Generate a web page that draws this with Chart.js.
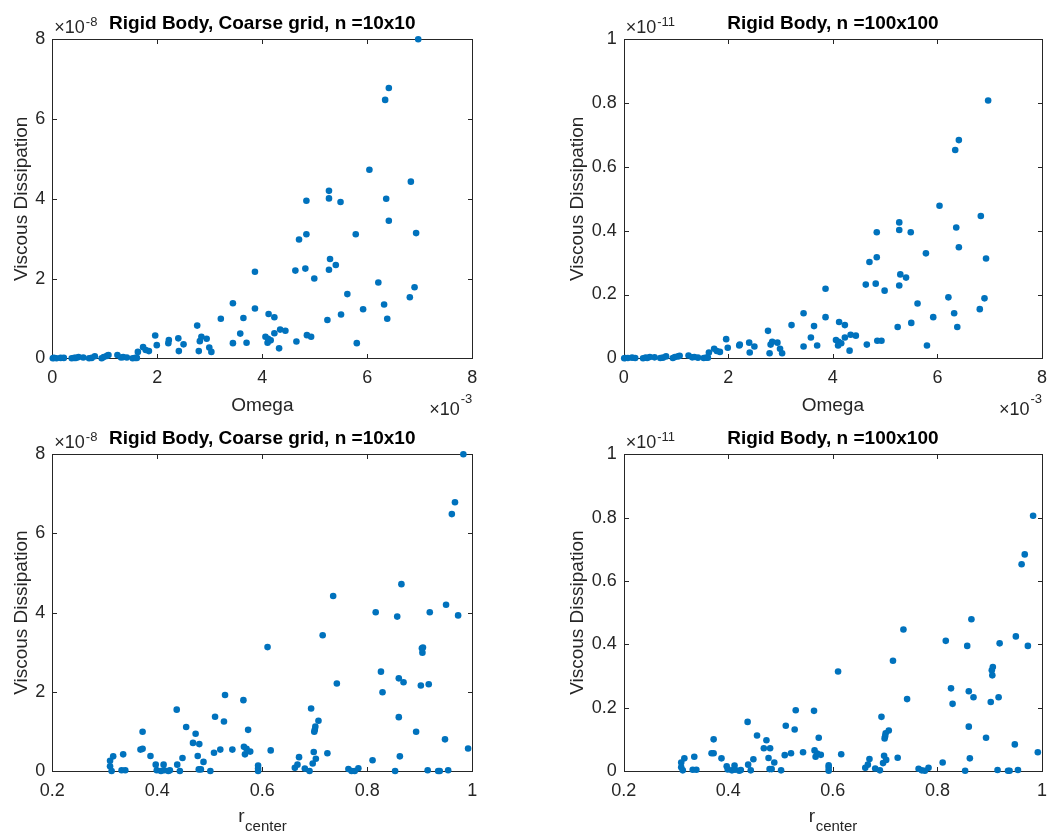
<!DOCTYPE html>
<html><head><meta charset="utf-8">
<script src="https://cdn.jsdelivr.net/npm/chart.js@4.4.1/dist/chart.umd.min.js"></script>
<style>
html,body{margin:0;padding:0;background:#fff;width:1056px;height:835px;overflow:hidden}
canvas{position:absolute;display:block}
</style></head><body>
<canvas id="c0" width="528" height="417" style="left:0;top:0"></canvas>
<canvas id="c1" width="528" height="417" style="left:528px;top:0"></canvas>
<canvas id="c2" width="528" height="418" style="left:0;top:417px"></canvas>
<canvas id="c3" width="528" height="418" style="left:528px;top:417px"></canvas>
<script>
// ---- data (Omega in units of 1e-3, coarse dissipation in 1e-8, fine dissipation in 1e-11)
const omegaE3 = [6.97,6.41,6.34,6.04,6.83,5.27,5.27,4.84,5.49,6.36,
6.41,5.78,6.93,4.84,4.70,5.29,5.40,4.82,5.27,4.63,
3.86,4.99,6.21,6.90,5.62,6.81,6.32,3.44,3.86,5.92,
4.12,5.50,4.23,3.64,3.21,5.24,6.38,2.76,4.34,4.44,
3.58,4.23,4.85,4.93,1.96,2.84,2.94,2.40,2.22,2.21,
4.06,4.11,4.16,4.10,2.81,2.50,1.99,3.44,3.70,4.65,
5.80,2.99,3.03,4.32,2.41,2.79,1.73,1.78,1.84,1.63,
0.01,0.03,0.08,0.16,0.22,0.37,0.42,0.45,0.50,0.59,
0.70,0.75,0.81,0.94,0.98,1.04,1.07,1.24,1.31,1.35,
1.42,1.53,1.58,1.61];
const dissCoarseOmega = [8.00,6.78,6.48,4.73,4.43,4.20,4.01,3.95,3.92,4.00,
3.45,3.11,3.14,3.11,2.98,2.49,2.34,2.25,2.22,2.20,
2.17,2.00,1.90,1.78,1.61,1.53,1.35,1.38,1.25,1.23,
1.11,1.10,1.03,1.01,0.99,0.96,0.99,0.82,0.72,0.69,
0.62,0.63,0.58,0.54,0.57,0.54,0.49,0.50,0.46,0.38,
0.54,0.49,0.45,0.39,0.43,0.35,0.33,0.38,0.39,0.42,
0.38,0.27,0.16,0.25,0.18,0.18,0.28,0.21,0.18,0.16,
0.00,0.01,0.00,0.01,0.01,0.00,0.01,0.01,0.03,0.02,
0.00,0.01,0.05,0.00,0.03,0.06,0.08,0.08,0.02,0.03,
0.02,0.00,0.01,0.01];
const dissFineOmega = [0.808,0.684,0.653,0.478,0.446,0.426,0.402,0.395,0.395,0.410,
0.348,0.329,0.313,0.317,0.302,0.263,0.253,0.234,0.228,0.231,
0.218,0.212,0.191,0.188,0.172,0.154,0.141,0.141,0.129,0.129,
0.114,0.111,0.104,0.101,0.104,0.098,0.098,0.086,0.074,0.071,
0.065,0.065,0.055,0.055,0.060,0.052,0.049,0.049,0.043,0.040,
0.057,0.052,0.047,0.040,0.043,0.037,0.033,0.037,0.040,0.043,
0.040,0.030,0.016,0.024,0.018,0.016,0.030,0.023,0.020,0.018,
0.000,0.001,0.001,0.002,0.001,0.000,0.002,0.001,0.004,0.003,
0.001,0.002,0.006,0.001,0.004,0.006,0.008,0.009,0.003,0.004,
0.002,0.001,0.002,0.002];

const rCenter = [0.310,0.310,0.313,0.316,0.335,0.332,0.339,0.368,0.372,0.372,
0.387,0.397,0.412,0.399,0.407,0.413,0.421,0.424,0.437,0.438,
0.443,0.448,0.455,0.468,0.473,0.477,0.480,0.479,0.483,0.488,
0.501,0.508,0.510,0.520,0.527,0.529,0.543,0.564,0.565,0.567,
0.570,0.573,0.577,0.592,0.592,0.592,0.610,0.616,0.662,0.667,
0.670,0.681,0.690,0.693,0.696,0.698,0.702,0.699,0.700,0.701,
0.707,0.715,0.724,0.735,0.742,0.764,0.770,0.776,0.783,0.810,
0.816,0.826,0.829,0.853,0.857,0.860,0.860,0.862,0.865,0.869,
0.893,0.902,0.906,0.904,0.905,0.915,0.917,0.919,0.935,0.938,
0.948,0.950,0.954,0.961,0.967,0.973,0.983,0.992];
const dissCoarseR = [0.26,0.12,0.00,0.37,0.42,0.02,0.02,0.54,0.56,0.99,
0.38,0.16,0.16,0.02,0.00,0.02,0.00,0.02,1.55,0.16,
0.00,0.33,1.11,0.71,0.94,0.38,0.68,0.04,0.04,0.23,
0.00,0.46,1.37,0.54,1.25,1.92,0.54,1.79,0.61,0.42,
0.56,1.04,0.49,0.14,0.06,0.00,3.13,0.52,0.08,0.16,
0.35,0.06,0.00,1.58,0.19,0.48,0.31,0.99,1.04,1.12,
1.27,3.43,0.45,4.42,2.21,0.05,0.00,0.00,0.07,0.27,
4.01,2.51,1.99,0.00,3.90,2.34,1.36,0.37,4.72,2.24,
0.99,2.16,3.12,3.10,2.99,0.02,2.19,4.01,0.00,0.00,
0.80,4.20,0.02,6.49,6.79,3.93,8.00,0.57];
const dissFineR = [0.027,0.012,0.002,0.040,0.045,0.004,0.004,0.056,0.056,0.100,
0.040,0.015,0.017,0.005,0.002,0.004,0.001,0.003,0.155,0.020,
0.002,0.037,0.112,0.072,0.097,0.041,0.072,0.006,0.006,0.027,
0.002,0.050,0.143,0.056,0.131,0.192,0.059,0.190,0.065,0.045,
0.055,0.105,0.051,0.018,0.010,0.001,0.314,0.053,0.010,0.020,
0.038,0.008,0.002,0.171,0.025,0.048,0.035,0.103,0.110,0.119,
0.128,0.348,0.042,0.447,0.227,0.007,0.002,0.001,0.010,0.027,
0.411,0.261,0.212,0.001,0.395,0.252,0.140,0.040,0.479,0.233,
0.105,0.218,0.328,0.318,0.302,0.003,0.233,0.403,0.001,0.001,
0.084,0.425,0.003,0.653,0.684,0.395,0.806,0.059];

// ---- tick labels and texts
const tickOmega = [0,2,4,6,8];
const tickCoarse = [0,2,4,6,8];
const tickFine = [0,0.2,0.4,0.6,0.8,1];
const tickR = [0.2,0.4,0.6,0.8,1];
const titles = ["Rigid Body, Coarse grid, n =10x10", "Rigid Body, n =100x100"];
const yExpCoarse = "-8", yExpFine = "-11", xExpOmega = "-3";
const yLabel = "Viscous Dissipation";
const xLabelOmega = "Omega";
const xLabelR = ["r", "center"];

const FONT = "'Liberation Sans', Arial, Helvetica, sans-serif";
const INK = "#262626";
const DOT = "#0072BD";

function fmt(v){ return String(+(+v).toFixed(4)); }

function makePanel(spec){
  const canvas = document.getElementById(spec.id);
  const W = canvas.width, H = canvas.height;
  const data = spec.xs.map((x,i)=>({x:x, y:spec.ys[i]}));
  const plugin = {
    id: 'panelDeco_' + spec.id,
    beforeDatasetsDraw(chart){
      const ctx = chart.ctx, a = chart.chartArea;
      const xs = chart.scales.x, ys = chart.scales.y;
      const l = Math.round(a.left)+0.5, r = Math.round(a.right)+0.5;
      const t = Math.round(a.top)+0.5, b = Math.round(a.bottom)+0.5;
      ctx.save();
      ctx.strokeStyle = INK; ctx.lineWidth = 1;
      ctx.strokeRect(l, t, r-l, b-t);
      const tl = 4.5;
      ctx.beginPath();
      spec.xTicks.forEach(v=>{
        const p = Math.round(xs.getPixelForValue(v))+0.5;
        ctx.moveTo(p, b); ctx.lineTo(p, b-tl);
        ctx.moveTo(p, t); ctx.lineTo(p, t+tl);
      });
      spec.yTicks.forEach(v=>{
        const p = Math.round(ys.getPixelForValue(v))+0.5;
        ctx.moveTo(l, p); ctx.lineTo(l+tl, p);
        ctx.moveTo(r, p); ctx.lineTo(r-tl, p);
      });
      ctx.stroke();
      ctx.restore();
    },
    afterDraw(chart){
      const ctx = chart.ctx, a = chart.chartArea;
      const cx = (a.left + a.right)/2;
      ctx.save();
      ctx.textBaseline = 'alphabetic';
      // title
      ctx.fillStyle = '#000';
      ctx.font = "bold 19px " + FONT;
      ctx.textAlign = 'center';
      ctx.fillText(spec.title, cx, a.top - 10);
      // y exponent
      ctx.fillStyle = INK;
      ctx.textAlign = 'left';
      ctx.font = "18px " + FONT;
      const base = "\u00d710";
      ctx.fillText(base, a.left + 2, a.top - 6);
      const bw = ctx.measureText(base).width;
      ctx.font = "13px " + FONT;
      ctx.fillText(spec.yExp, a.left + 2 + bw + 1, a.top - 13);
      // x exponent
      if (spec.xExp){
        ctx.font = "13px " + FONT;
        const sw = ctx.measureText(spec.xExp).width;
        ctx.font = "18px " + FONT;
        const bw2 = ctx.measureText(base).width;
        const x0 = a.right - sw - bw2 - 1;
        ctx.fillText(base, x0, a.bottom + 57);
        ctx.font = "13px " + FONT;
        ctx.fillText(spec.xExp, x0 + bw2 + 1, a.bottom + 45);
      }
      // x label
      ctx.font = "19px " + FONT;
      if (Array.isArray(spec.xLabel)){
        const w1 = ctx.measureText(spec.xLabel[0]).width;
        ctx.font = "15px " + FONT;
        const w2 = ctx.measureText(spec.xLabel[1]).width;
        const x0 = cx - (w1 + w2)/2;
        ctx.font = "19px " + FONT;
        ctx.fillText(spec.xLabel[0], x0, a.bottom + 51);
        ctx.font = "15px " + FONT;
        ctx.fillText(spec.xLabel[1], x0 + w1 + 0.5, a.bottom + 60);
      } else {
        ctx.textAlign = 'center';
        ctx.fillText(spec.xLabel, cx, a.bottom + 53);
      }
      // y label
      ctx.font = "19px " + FONT;
      ctx.textAlign = 'center';
      ctx.translate(a.left - spec.yLabelOff, (a.top + a.bottom)/2);
      ctx.rotate(-Math.PI/2);
      ctx.fillText(yLabel, 0, 0);
      ctx.restore();
    }
  };
  const tickFont = {family: FONT, size: 18};
  return new Chart(canvas, {
    type: 'scatter',
    data: { datasets: [{
      data: data,
      backgroundColor: DOT,
      borderWidth: 0,
      pointRadius: 3.3,
      pointHoverRadius: 3.3,
      clip: false
    }]},
    options: {
      responsive: false,
      animation: false,
      events: [],
      devicePixelRatio: 1,
      layout: { padding: { left: 0, top: spec.T, right: W - spec.R, bottom: 0 } },
      plugins: { legend: {display:false}, tooltip: {enabled:false}, title: {display:false} },
      scales: {
        x: {
          type: 'linear', position: 'bottom',
          min: spec.xMin, max: spec.xMax,
          grid: {display:false, drawTicks:false},
          border: {display:false},
          afterBuildTicks: s => { s.ticks = spec.xTicks.map(v=>({value:v})); },
          afterFit: s => { s.height = H - spec.B; },
          ticks: { font: tickFont, color: INK, padding: 9, maxRotation: 0, autoSkip: false,
                   callback: v => fmt(v) }
        },
        y: {
          type: 'linear', position: 'left',
          min: spec.yMin, max: spec.yMax,
          grid: {display:false, drawTicks:false},
          border: {display:false},
          afterBuildTicks: s => { s.ticks = spec.yTicks.map(v=>({value:v})); },
          afterFit: s => { s.width = spec.L; },
          ticks: { font: tickFont, color: INK, padding: 7, autoSkip: false,
                   callback: v => fmt(v) }
        }
      }
    },
    plugins: [plugin]
  });
}

makePanel({id:'c0', xs: omegaE3, ys: dissCoarseOmega, L:52.3, R:472.3, T:39.3, B:358.3,
  xMin:0, xMax:8, yMin:0, yMax:8, xTicks: tickOmega, yTicks: tickCoarse,
  title: titles[0], yExp: yExpCoarse, xExp: xExpOmega, xLabel: xLabelOmega, yLabelOff: 25.5});
makePanel({id:'c1', xs: omegaE3, ys: dissFineOmega, L:95.7, R:514.7, T:39.3, B:358.3,
  xMin:0, xMax:8, yMin:0, yMax:1, xTicks: tickOmega, yTicks: tickFine,
  title: titles[1], yExp: yExpFine, xExp: xExpOmega, xLabel: xLabelOmega, yLabelOff: 40.5});
makePanel({id:'c2', xs: rCenter, ys: dissCoarseR, L:52.3, R:472.3, T:37.3, B:354,
  xMin:0.2, xMax:1, yMin:0, yMax:8, xTicks: tickR, yTicks: tickCoarse,
  title: titles[0], yExp: yExpCoarse, xExp: null, xLabel: xLabelR, yLabelOff: 25.5});
makePanel({id:'c3', xs: rCenter, ys: dissFineR, L:95.7, R:514.7, T:37.3, B:354,
  xMin:0.2, xMax:1, yMin:0, yMax:1, xTicks: tickR, yTicks: tickFine,
  title: titles[1], yExp: yExpFine, xExp: null, xLabel: xLabelR, yLabelOff: 40.5});
</script>
</body></html>
